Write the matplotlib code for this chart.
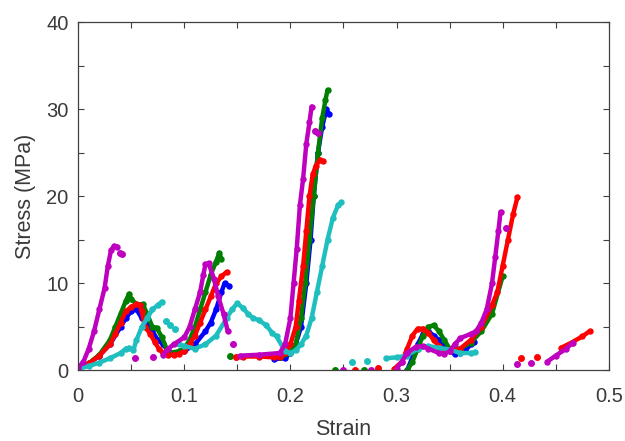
import numpy as np
import matplotlib
matplotlib.use('Agg')
import matplotlib.pyplot as plt

nan = np.nan

# stress-strain curves, NaN splits separate loading segments
blue_x = [0, 0.01, 0.02, 0.03, 0.04, 0.045, 0.05, 0.055, 0.06, 0.065, 0.07, 0.075, 0.08, 0.085, 0.09,
          0.1, 0.11, 0.12, 0.125, 0.13, 0.135, 0.138, 0.142, nan,
          0.185, 0.195, 0.2, 0.205, 0.21, 0.215, 0.219, 0.222, 0.226, 0.23, 0.234, 0.236, nan,
          0.31, 0.315, 0.32, 0.325, 0.33, 0.335, 0.34, 0.345, 0.35, 0.355, 0.36, 0.365, 0.37, 0.373]
blue_y = [0.3, 0.8, 1.7, 3.0, 5.0, 6.0, 6.8, 7.0, 6.0, 5.5, 4.5, 3.5, 3.0, 2.2, 2.0,
          2.2, 3.0, 4.5, 5.5, 7.0, 9.0, 10.0, 9.7, nan,
          1.3, 1.4, 2.0, 3.0, 5.0, 10.0, 15.0, 20.0, 25.0, 28.0, 30.0, 29.5, nan,
          0.0, 1.5, 3.0, 4.2, 4.5, 4.0, 3.5, 2.8, 2.2, 1.9, 2.0, 2.3, 3.0, 3.3]

green_x = [0, 0.01, 0.02, 0.03, 0.035, 0.04, 0.045, 0.048, 0.05, 0.055, 0.061, 0.065, 0.07, 0.074, 0.079, 0.085,
           0.095, 0.1, 0.105, 0.11, 0.115, 0.12, 0.125, 0.13, 0.133, 0.135, nan,
           0.19, 0.2, 0.205, 0.21, 0.214, 0.218, 0.222, 0.226, 0.23, 0.233, 0.235, nan,
           0.31, 0.315, 0.32, 0.325, 0.33, 0.335, 0.34, 0.345, 0.35, 0.36, 0.37, 0.38, 0.39, 0.4]
green_y = [0.3, 0.8, 1.8, 3.5, 5.0, 6.5, 8.0, 8.8, 8.2, 7.6, 7.6, 6.5, 5.0, 4.9, 3.8, 2.0,
           2.2, 2.5, 3.5, 5.0, 7.0, 9.0, 11.0, 12.5, 13.5, 12.8, nan,
           1.5, 2.0, 3.0, 6.0, 10.0, 15.0, 20.0, 25.0, 29.0, 31.0, 32.2, nan,
           0.0, 1.0, 2.5, 4.0, 5.0, 5.2, 4.5, 3.5, 2.5, 2.5, 3.2, 4.5, 6.5, 10.8]

red_x = [0, 0.01, 0.02, 0.03, 0.035, 0.04, 0.045, 0.05, 0.055, 0.058, 0.06, 0.063, 0.068, 0.072, 0.076, 0.08,
         0.085, 0.09, 0.095, 0.1, 0.105, 0.11, 0.115, 0.12, 0.125, 0.13, 0.135, 0.14, nan,
         0.155, 0.17, 0.185, 0.19, 0.195, 0.2, 0.205, 0.208, 0.212, 0.215, 0.218, 0.221, 0.224, 0.228, 0.231, nan,
         0.298, 0.305, 0.31, 0.315, 0.32, 0.325, 0.33, 0.335, 0.34, 0.345, 0.35, 0.36, 0.37, 0.38, 0.39,
         0.395, 0.4, 0.405, 0.41, 0.414, nan,
         0.455, 0.465, 0.475, 0.482]
red_y = [0.3, 0.8, 1.7, 3.0, 4.2, 5.5, 6.8, 7.3, 7.6, 7.5, 6.8, 5.0, 4.2, 3.3, 2.5, 2.0,
         1.8, 1.8, 1.9, 2.2, 3.0, 4.0, 5.5, 7.0, 8.5, 10.0, 10.8, 11.3, nan,
         1.6, 1.6, 1.5, 1.6, 2.0, 3.0, 5.0, 8.0, 12.0, 16.0, 20.0, 22.5, 23.5, 24.2, 24.0, nan,
         0.2, 1.0, 2.5, 4.0, 4.8, 4.8, 4.3, 3.5, 2.8, 2.3, 2.2, 2.5, 3.5, 5.0, 7.5,
         9.0, 12.0, 15.0, 18.0, 19.9, nan,
         2.6, 3.2, 3.9, 4.5]

cyan_x = [0, 0.01, 0.02, 0.03, 0.04, 0.045, 0.048, 0.052, 0.055, 0.06, 0.065, 0.07, 0.075, 0.079, nan,
          0.095, 0.1, 0.11, 0.12, 0.13, 0.14, 0.145, 0.15, 0.155, 0.16, 0.165, 0.17, 0.177, 0.183, 0.187,
          0.195, 0.2, 0.205, 0.21, 0.215, 0.22, 0.225, 0.23, 0.235, 0.24, 0.245, 0.248, nan,
          0.29, 0.3, 0.31, 0.32, 0.33, 0.34, 0.35, 0.36, 0.37, 0.374]
cyan_y = [0.2, 0.5, 0.9, 1.4, 2.0, 2.5, 2.6, 2.3, 3.5, 5.0, 6.0, 7.0, 7.5, 7.9, nan,
          3.0, 2.8, 2.5, 3.0, 4.0, 6.0, 7.0, 7.7, 7.2, 6.5, 6.0, 5.8, 5.2, 4.3, 3.9,
          2.2, 2.0, 2.3, 3.0, 4.0, 6.0, 9.0, 12.0, 15.0, 17.5, 19.0, 19.3, nan,
          1.4, 1.5, 1.7, 2.5, 2.8, 2.6, 2.4, 2.0, 2.0, 2.1]

mag_x = [0, 0.005, 0.01, 0.015, 0.02, 0.025, 0.028, 0.031, 0.034, 0.037, nan,
         0.08, 0.085, 0.09, 0.1, 0.105, 0.11, 0.115, 0.118, 0.12, 0.123, 0.128, 0.132, 0.137, 0.141, nan,
         0.153, 0.17, 0.19, 0.195, 0.2, 0.203, 0.206, 0.209, 0.212, 0.215, 0.218, 0.22, nan,
         0.3, 0.305, 0.31, 0.318, 0.325, 0.33, 0.34, 0.345, 0.35, 0.355, 0.36, 0.37, 0.375, 0.38,
         0.385, 0.39, 0.393, 0.396, 0.398, nan,
         0.442, 0.45, 0.46, 0.466]
mag_y = [0.3, 1.0, 2.5, 4.5, 7.0, 9.5, 12.0, 13.8, 14.3, 14.2, nan,
         1.8, 2.5, 3.0, 3.8, 5.0, 7.0, 9.0, 11.0, 12.2, 12.3, 10.5, 8.5, 6.5, 4.5, nan,
         1.7, 1.8, 2.0, 3.0, 6.0, 10.0, 14.0, 19.0, 22.0, 26.0, 28.5, 30.3, nan,
         0.2, 1.0, 2.0, 2.7, 2.8, 2.5, 2.0, 1.9, 2.2, 3.0, 3.7, 4.2, 4.5, 5.5,
         7.0, 10.0, 13.0, 16.0, 18.2, nan,
         1.0, 1.7, 2.5, 3.2]

# loose single points
blue_dx = []
blue_dy = []
green_dx = [0.143, 0.242, 0.269]
green_dy = [1.7, 0.1, 0.1]
red_dx = [0.149, 0.261, 0.283, 0.417, 0.432]
red_dy = [1.5, 0.1, 0.3, 1.4, 1.6]
cyan_dx = [0.083, 0.087, 0.091, 0.258, 0.272]
cyan_dy = [5.7, 5.2, 4.8, 1.0, 1.1]
mag_dx = [0.039, 0.041, 0.054, 0.071, 0.146, 0.223, 0.226, 0.25, 0.276, 0.403, 0.414, 0.427]
mag_dy = [13.5, 13.4, 1.4, 1.6, 3.0, 27.5, 27.3, 0.1, 0.1, 16.4, 0.7, 0.9]

series = [
    (blue_x, blue_y, blue_dx, blue_dy, '#0000FF'),
    (green_x, green_y, green_dx, green_dy, '#007F00'),
    (red_x, red_y, red_dx, red_dy, '#FF0000'),
    (cyan_x, cyan_y, cyan_dx, cyan_dy, '#1FBFBF'),
    (mag_x, mag_y, mag_dx, mag_dy, '#BF00BF'),
]

plt.rcParams['font.family'] = ['Liberation Sans', 'DejaVu Sans']
txt = '#3a3a3a'

fig = plt.figure(figsize=(6.25, 4.41), dpi=100)
ax = fig.add_axes([0.125, 0.16, 0.849, 0.79])

for x, y, dx, dy, c in series:
    ax.plot(x, y, '-', color=c, linewidth=3.2, marker='o', markersize=3.6,
            solid_capstyle='round', solid_joinstyle='round')
    if dx:
        ax.plot(dx, dy, 'o', color=c, markersize=4, linestyle='none')

ax.set_xlim(0, 0.5)
ax.set_ylim(0, 40)
ax.set_xticks([0, 0.1, 0.2, 0.3, 0.4, 0.5])
ax.set_xticklabels(['0', '0.1', '0.2', '0.3', '0.4', '0.5'])
ax.set_yticks([0, 10, 20, 30, 40])
ax.set_xticks(np.arange(0, 0.51, 0.05), minor=True)
ax.set_yticks(np.arange(0, 41, 5), minor=True)

ax.tick_params(which='both', direction='in', top=True, right=True,
               color='#404040', labelcolor=txt, labelsize=14.5, length=4, width=0.8)
ax.tick_params(axis='x', which='major', pad=12)
ax.tick_params(axis='y', which='major', pad=7)
for s in ax.spines.values():
    s.set_color('#404040')
    s.set_linewidth(0.9)

ax.set_xlabel('Strain', fontsize=15.5, color=txt, labelpad=9)
ax.set_ylabel('Stress (MPa)', fontsize=15.5, color=txt, labelpad=7)

fig.savefig('out.png', dpi=100)
